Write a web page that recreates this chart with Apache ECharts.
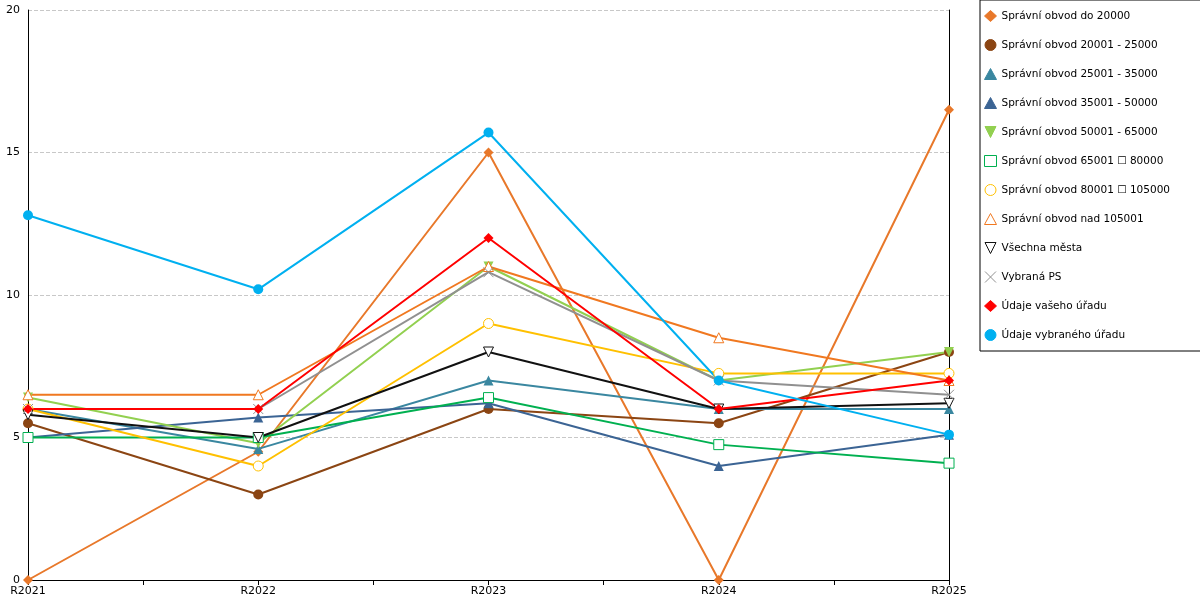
<!DOCTYPE html>
<html><head><meta charset="utf-8">
<script src="https://cdn.jsdelivr.net/npm/echarts@6/dist/echarts.min.js"></script>
<style>html,body{margin:0;background:#fff}#chart-container{width:1200px;height:600px}</style>
</head><body><div id="chart-container"></div>
<script>
var categories = ['R2021', 'R2022', 'R2023', 'R2024', 'R2025'];
var names = ['Správní obvod do 20000', 'Správní obvod 20001 - 25000', 'Správní obvod 25001 - 35000',
  'Správní obvod 35001 - 50000', 'Správní obvod 50001 - 65000', 'Správní obvod 65001 \u2610 80000',
  'Správní obvod 80001 \u2610 105000', 'Správní obvod nad 105001', 'Všechna města', 'Vybraná PS',
  'Údaje vašeho úřadu', 'Údaje vybraného úřadu'];
var values = [
  [0, 4.5, 15, 0, 16.5],
  [5.5, 3, 6, 5.5, 8],
  [6, 4.6, 7, 6, 6],
  [5, 5.7, 6.2, 4, 5.1],
  [6.4, 4.8, 11, 7, 8],
  [5, 5, 6.4, 4.75, 4.1],
  [6, 4, 9, 7.25, 7.25],
  [6.5, 6.5, 11, 8.5, 7],
  [5.8, 5, 8, 6, 6.2],
  [6, 6, 10.8, 7, 6.5],
  [6, 6, 12, 6, 7],
  [12.8, 10.2, 15.7, 7, 5.1]
];
var colors = ['#e8782a', '#8b4513', '#3a87a0', '#3b6494', '#92d050', '#00b050', '#ffc000', '#f07820', '#111111', '#909090', '#ff0000', '#00b0f0'];
var symbols = ['diamond', 'circle', 'triangle', 'triangle', 'path://M0,0 L10,0 L5,10 Z', 'rect', 'circle', 'triangle', 'path://M0,0 L10,0 L5,10 Z', 'path://M0,0 L10,10 M10,0 L0,10', 'diamond', 'circle'];
var hollow = [false, false, false, false, false, true, true, true, true, true, false, false];

var myChart = echarts.init(document.getElementById('chart-container'), null, {renderer: 'canvas'});
var series = names.map(function (n, i) {
  return {
    name: n, type: 'line', data: values[i], symbol: symbols[i], symbolSize: 10,
    showAllSymbol: true, lineStyle: {width: 2, color: colors[i]},
    itemStyle: {color: hollow[i] ? '#fff' : colors[i], borderColor: colors[i], borderWidth: hollow[i] ? 1 : 0}
  };
});
var option = {
  animation: false,
  color: colors,
  grid: {left: 28, right: 251, top: 10, bottom: 20},
  legend: {
    orient: 'vertical', left: 980, top: 0, padding: [10, 36, 10, 4],
    borderColor: '#000', borderWidth: 1, itemGap: 17, itemWidth: 12, itemHeight: 11,
    textStyle: {fontFamily: 'DejaVu Sans', fontSize: 10.5, color: '#000'},
    data: names.map(function (n, i) {
      return {name: n, icon: symbols[i], itemStyle: {color: hollow[i] ? '#fff' : colors[i], borderColor: colors[i], borderWidth: 1}, lineStyle: {opacity: 0}};
    })
  },
  xAxis: [{
    type: 'category', data: categories, boundaryGap: false,
    axisLine: {lineStyle: {color: '#000'}}, axisTick: {show: false},
    axisLabel: {color: '#000', fontFamily: 'DejaVu Sans', fontSize: 11, margin: 6}
  }, {
    type: 'value', min: 0, max: 4, interval: 0.5, position: 'bottom',
    axisLine: {show: false}, axisLabel: {show: false}, splitLine: {show: false},
    axisTick: {show: true, length: 5, lineStyle: {color: '#000'}}
  }],
  yAxis: [{
    type: 'value', min: 0, max: 20, interval: 5,
    axisLine: {show: true, lineStyle: {color: '#000'}}, axisTick: {show: false},
    axisLabel: {color: '#000', fontFamily: 'DejaVu Sans', fontSize: 11, margin: 8},
    splitLine: {lineStyle: {type: 'dashed', color: '#c8c8c8'}}
  }, {
    type: 'value', min: 0, max: 20, interval: 5, position: 'right',
    axisLine: {show: true, lineStyle: {color: '#000'}}, axisTick: {show: false},
    axisLabel: {show: false}, splitLine: {show: false}
  }],
  series: series
};
myChart.setOption(option);
</script></body></html>
